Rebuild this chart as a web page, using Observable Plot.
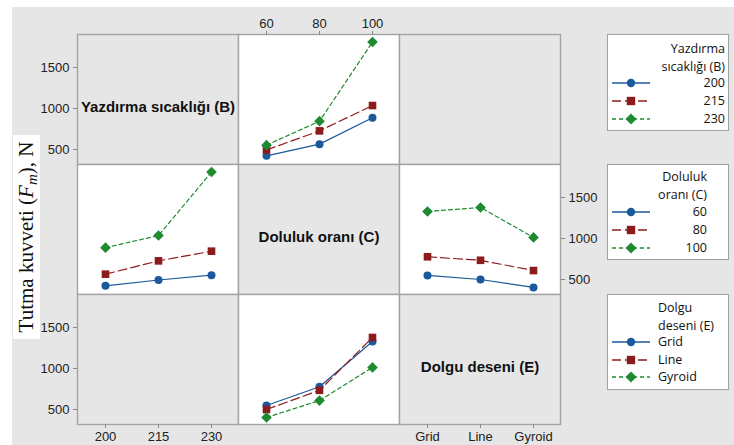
<!DOCTYPE html>
<html><head><meta charset="utf-8">
<script src="https://cdn.jsdelivr.net/npm/d3@7"></script>
<script src="https://cdn.jsdelivr.net/npm/@observablehq/plot@0.6"></script>
<style>
body{margin:0;background:#fff;}
#root{position:relative;width:734px;height:445px;overflow:hidden;background:#fff;font-family:"Liberation Sans",Arial,sans-serif;}
.bg{position:absolute;left:12px;top:7px;right:0;bottom:0;background:#e6e6e6;}
.legend{position:absolute;background:#fff;border:1px solid #a0a0a0;box-sizing:border-box;}
.lt{position:absolute;font-family:"Open Sans","Noto Sans",sans-serif;font-size:12.5px;color:#111;line-height:12px;height:12px;white-space:nowrap;}
</style></head><body><div id="root"><div class="bg"></div></div>
<script>
// ---- data ----
const tempLevels = ["200", "215", "230"];          // B
const fillLevels = ["60", "80", "100"];            // C
const patternLevels = ["Grid", "Line", "Gyroid"];  // E
// mean holding force by B across C = 60, 80, 100
const force_B200 = [423, 565, 888];
const force_B215 = [494, 727, 1036];
const force_B230 = [553, 845, 1810];
// mean holding force by E across C = 60, 80, 100
const force_Grid = [549, 777, 1329];
const force_Line = [500, 734, 1378];
const force_Gyroid = [403, 609, 1013];
const yTicks = [500, 1000, 1500];
const factorNames = ["Yazdırma sıcaklığı (B)", "Doluluk oranı (C)", "Dolgu deseni (E)"];
const legendTitles = [["Yazdırma", "sıcaklığı (B)"], ["Doluluk", "oranı (C)"], ["Dolgu", "deseni (E)"]];

const BC = [];
[force_B200, force_B215, force_B230].forEach((arr, i) =>
  fillLevels.forEach((c, j) => BC.push({B: tempLevels[i], C: c, v: arr[j]})));
const EC = [];
[force_Grid, force_Line, force_Gyroid].forEach((arr, i) =>
  fillLevels.forEach((c, j) => EC.push({E: patternLevels[i], C: c, v: arr[j]})));

// ---- layout / style ----
const root = document.getElementById("root");
const colX = [77, 238, 399], colW = 161;
const rowY = [34, 164, 294], rowH = 130;
const yDomain = [317, 1902];
const styles = [
  {color: "#1a5a9c", dash: null, symbol: "circle", r: 4},
  {color: "#8e1b1b", dash: "9,4", symbol: "square", r: 4.3},
  {color: "#1f8a30", dash: "4,3", symbol: "diamond2", r: 4.8}
];
const GRAY = "#e6e6e6", EDGE = "#a3a3a3";

function place(el, left, top) {
  el.style.position = "absolute";
  el.style.left = left + "px";
  el.style.top = top + "px";
  root.appendChild(el);
}

function panel({col, row, xDomain, data = [], xKey, sKey, sDomain = [], fill = "white", label = null, xAxis = null, yAxis = null}) {
  const mL = yAxis === "left" ? 60 : 0, mR = yAxis === "right" ? 60 : 0;
  const mT = xAxis === "top" ? 30 : 0, mB = xAxis === "bottom" ? 30 : 0;
  const marks = [Plot.frame({fill, stroke: EDGE, strokeWidth: 1.4})];
  sDomain.forEach((lvl, k) => {
    const st = styles[k];
    const sub = data.filter(d => d[sKey] === lvl);
    marks.push(Plot.line(sub, {x: xKey, y: "v", stroke: st.color, strokeWidth: 1.2, strokeDasharray: st.dash}));
  });
  sDomain.forEach((lvl, k) => {
    const st = styles[k];
    const sub = data.filter(d => d[sKey] === lvl);
    marks.push(Plot.dot(sub, {x: xKey, y: "v", fill: st.color, stroke: "none", symbol: st.symbol, r: st.r}));
  });
  if (label) marks.push(Plot.text([label], {text: d => d, frameAnchor: "middle", dy: 8, fontWeight: "bold", fontSize: 15, fill: "#111"}));
  if (xAxis) marks.push(Plot.axisX({anchor: xAxis, tickSize: 4, tickPadding: 3, label: null, stroke: "#888", fill: "#222", fontSize: 13}));
  if (yAxis) marks.push(Plot.axisY({anchor: yAxis, ticks: yTicks, tickFormat: d => String(d), tickSize: 4, tickPadding: 4, label: null, stroke: "#888", fill: "#222", fontSize: 13}));
  const svg = Plot.plot({
    width: colW + mL + mR, height: rowH + mT + mB,
    marginLeft: mL, marginRight: mR, marginTop: mT, marginBottom: mB,
    x: {type: "point", domain: xDomain, padding: 0.5, axis: null},
    y: {domain: yDomain, axis: null},
    style: {background: "transparent", fontSize: "13px", fontFamily: "'Liberation Sans', Arial, sans-serif", overflow: "visible"},
    marks
  });
  place(svg, colX[col] - mL, rowY[row] - mT);
}

// row 0
panel({col: 0, row: 0, xDomain: tempLevels, fill: GRAY, label: factorNames[0], yAxis: "left"});
panel({col: 1, row: 0, xDomain: fillLevels, data: BC, xKey: "C", sKey: "B", sDomain: tempLevels, xAxis: "top"});
panel({col: 2, row: 0, xDomain: patternLevels, fill: GRAY});
// row 1
panel({col: 0, row: 1, xDomain: tempLevels, data: BC, xKey: "B", sKey: "C", sDomain: fillLevels});
panel({col: 1, row: 1, xDomain: fillLevels, fill: GRAY, label: factorNames[1]});
panel({col: 2, row: 1, xDomain: patternLevels, data: EC, xKey: "E", sKey: "C", sDomain: fillLevels, yAxis: "right"});
// row 2
panel({col: 0, row: 2, xDomain: tempLevels, fill: GRAY, yAxis: "left", xAxis: "bottom"});
panel({col: 1, row: 2, xDomain: fillLevels, data: EC, xKey: "C", sKey: "E", sDomain: patternLevels});
panel({col: 2, row: 2, xDomain: patternLevels, fill: GRAY, label: factorNames[2], xAxis: "bottom"});

// y-axis title
const yt = document.createElementNS("http://www.w3.org/2000/svg", "svg");
yt.setAttribute("width", 30); yt.setAttribute("height", 210);
yt.innerHTML = `<rect x="0" y="0" width="27" height="204" fill="#fff"/>
<text transform="translate(20,102) rotate(-90)" text-anchor="middle" font-family="'Liberation Serif','Times New Roman',serif" font-size="21" fill="#111">Tutma kuvveti (<tspan font-style="italic">F</tspan><tspan font-style="italic" font-size="15" dy="4">m</tspan><tspan dy="-4">), N</tspan></text>`;
place(yt, 13, 135);

// legends
function swatch(k) {
  const st = styles[k];
  let m;
  if (st.symbol === "circle") m = `<circle cx="20" cy="7" r="4.2" fill="${st.color}"/>`;
  else if (st.symbol === "square") m = `<rect x="15.8" y="2.8" width="8.4" height="8.4" fill="${st.color}"/>`;
  else m = `<path d="M20,1.5L25.5,7L20,12.5L14.5,7Z" fill="${st.color}"/>`;
  return `<svg width="40" height="14" style="position:absolute;left:0;top:0"><line x1="1" x2="39" y1="7" y2="7" stroke="${st.color}" stroke-width="1.3" ${st.dash ? `stroke-dasharray="${st.dash}"` : ""}/>${m}</svg>`;
}
function legend({top, height, title, levels, rows, align, textX}) {
  const box = document.createElement("div");
  box.className = "legend";
  box.style.left = "607px"; box.style.top = top + "px";
  box.style.width = "122px"; box.style.height = height + "px";
  root.appendChild(box);
  const addText = (txt, y) => {
    const t = document.createElement("div");
    t.className = "lt";
    t.textContent = txt;
    t.style.top = (y - 6) + "px";
    if (align === "right") { t.style.right = (734 - textX) + "px"; }
    else { t.style.left = textX + "px"; }
    root.appendChild(t);
  };
  addText(title[0], rows[0]);
  addText(title[1], rows[1]);
  levels.forEach((lvl, k) => {
    addText(lvl, rows[k + 2]);
    const s = document.createElement("div");
    s.innerHTML = swatch(k);
    s.style.width = "40px"; s.style.height = "14px";
    place(s, 611, rows[k + 2] - 7);
  });
}
legend({top: 34, height: 97, title: legendTitles[0], levels: tempLevels, rows: [49, 67, 83, 101, 119], align: "right", textX: 725});
legend({top: 164, height: 96, title: legendTitles[1], levels: fillLevels, rows: [177, 195, 212, 230, 248], align: "right", textX: 707});
legend({top: 294, height: 96, title: legendTitles[2], levels: patternLevels, rows: [308, 326, 342, 360, 377], align: "left", textX: 658});
</script></body></html>
